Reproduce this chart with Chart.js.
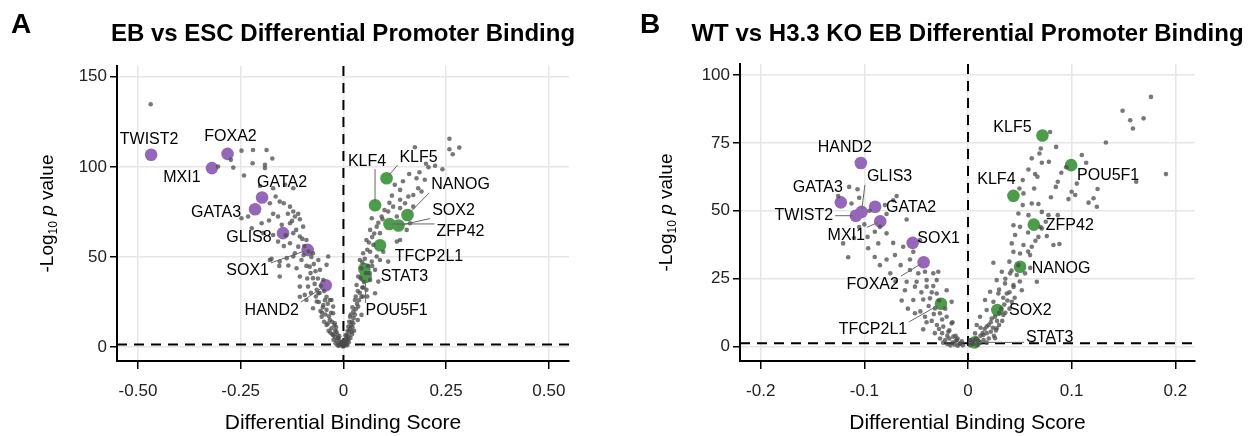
<!DOCTYPE html>
<html>
<head>
<meta charset="utf-8">
<script src="https://cdn.jsdelivr.net/npm/chart.js@4.4.1/dist/chart.umd.min.js"></script>
<style>
    body {
        margin: 0;
        background: #fff;
        width: 1252px;
        height: 436px;
        overflow: hidden;
        position: relative;
    }
    #panelA { position: absolute; left: 0; top: 0; }
    #panelB { position: absolute; left: 620px; top: 0; }
</style>
</head>
<body>
<canvas id="panelA" width="620" height="436"></canvas>
<canvas id="panelB" width="632" height="436"></canvas>

<script>
// ---- panel A : EB vs ESC ----
const xTicksA = [-0.5, -0.25, 0, 0.25, 0.5];
const xTickLabelsA = ['-0.50', '-0.25', '0', '0.25', '0.50'];
const yTicksA = [0, 50, 100, 150];

const purpleGenesA = ['TWIST2', 'FOXA2', 'MXI1', 'GATA2', 'GATA3', 'GLIS8', 'SOX1', 'HAND2'];
const purpleXA = [-0.468, -0.282, -0.320, -0.198, -0.215, -0.147, -0.087, -0.043];
const purpleYA = [106.7, 107.2, 99.3, 83.0, 76.5, 63.2, 53.9, 34.3];

const greenGenesA = ['KLF5', 'KLF4', 'NANOG', 'SOX2', 'ZFP42', 'TFCP2L1', 'STAT3', 'POU5F1'];
const greenXA = [0.105, 0.077, 0.156, 0.134, 0.112, 0.089, 0.051, 0.054];
const greenYA = [93.7, 78.7, 73.3, 67.4, 68.3, 56.5, 43.3, 38.9];

const otherA = [
    [-0.469,134.8],[-0.305,100.2],[-0.274,103.9],[-0.268,99.6],[-0.248,109],[-0.242,95.2],[-0.220,109.4],
    [-0.221,102],[-0.187,109.4],[-0.191,101.1],[-0.191,99.3],[-0.173,104.6],[-0.203,89.4],[-0.171,88.1],
    [-0.142,90],[-0.122,88.1],[-0.165,83.5],[-0.179,79.8],[-0.155,80.7],[-0.145,79.8],[-0.130,77.9],
    [-0.122,75.2],[-0.171,73.9],[-0.159,72.4],[-0.118,72.4],[-0.110,73.9],[-0.248,71.5],[-0.232,72.4],
    [-0.199,68.7],[-0.181,70.2],[-0.150,67.8],[-0.130,68.7],[-0.106,70.9],[-0.098,66.8],[-0.223,65.9],
    [-0.195,63.2],[-0.171,62.2],[-0.122,63.2],[-0.106,61.3],[-0.159,58.5],[-0.130,57.6],[-0.090,59.4],
    [-0.110,55.7],[-0.074,52],[-0.179,48.3],[-0.155,47.4],[-0.138,49.3],[-0.122,50.2],[-0.102,48.3],
    [-0.061,48.3],[-0.037,50.2],[-0.134,45.2],[-0.114,43.7],[-0.082,44.6],[-0.057,42.8],[-0.041,45.6],
    [-0.155,39.1],[-0.106,39.1],[-0.074,38.2],[-0.049,37.2],[-0.086,33.5],[-0.065,31.7],[-0.094,28.9],
    [-0.061,29.8],[-0.041,27.9],[-0.029,26.1],[-0.065,25.2],[-0.049,23.3],[-0.074,21.5],[-0.041,20.6],
    [-0.025,18.7],[-0.053,16.8],[-0.033,15],[-0.021,13.2],[-0.041,12.2],[-0.029,10.4],[-0.017,8.5],
    [-0.025,6.7],[-0.013,4.8],[-0.008,3],[-0.004,2],[-0.175,48.9],[-0.156,45],[-0.106,33.5],[-0.106,27.9],
    [-0.090,26.1],[-0.033,26.1],[-0.025,22.4],[-0.035,17],[-0.030,19],[-0.028,14],[-0.022,12],[-0.020,9],
    [-0.018,11],[-0.015,7],[-0.012,5],[-0.010,6],[-0.006,2.5],[-0.003,3],[-0.002,0.8],[-0.001,0.3],
    [-0.050,22],[-0.045,26],[-0.038,24],[-0.058,30],[-0.070,35],[-0.080,41],[-0.090,45],[-0.052,19],
    [-0.060,25],[-0.044,18],[-0.036,9],[-0.027,7],
    [-0.047,31],[-0.055,34],[-0.062,38],[-0.068,42],[-0.072,46],[-0.078,50],[-0.085,53],[-0.095,56],
    [-0.100,60],[-0.115,65],[-0.125,70],[-0.135,74],[-0.140,62],[-0.145,56],[-0.118,52],[-0.097,51],
    [-0.088,38],[-0.079,30],[-0.067,28],[-0.056,20],[-0.047,14],[-0.038,13],[-0.032,8],[-0.024,4],
    [-0.019,2],[-0.014,1],[-0.009,1.5],[-0.011,0.6],[-0.016,3.5],[-0.021,5.5],
    [0.258,115.6],[0.266,107],[0.282,110.7],[0.258,109.8],[0.174,110.9],[0.201,101.7],[0.207,99.8],
    [0.223,100.6],[0.241,98.7],[0.178,93.7],[0.198,92.8],[0.182,88.1],[0.190,86.3],[0.170,84.4],
    [0.138,87.2],[0.138,81.7],[0.158,83.5],[0.121,77.9],[0.150,79.8],[0.109,75.2],[0.138,77.1],
    [0.170,77.9],[0.093,72.4],[0.130,72.4],[0.069,71.5],[0.081,66.8],[0.154,65],[0.162,68.7],[0.065,65],
    [0.089,63.2],[0.130,58.5],[0.138,59.4],[0.056,59.4],[0.073,56.7],[0.065,52.9],[0.097,52.9],[0.048,52],
    [0.081,50.2],[0.040,48.3],[0.069,47.4],[0.089,48.3],[0.109,47.4],[0.044,43.7],[0.077,42.8],[0.036,39.1],
    [0.065,37.2],[0.085,36.3],[0.032,34.4],[0.056,31.7],[0.077,29.8],[0.044,27.9],[0.028,26.1],[0.036,22.4],
    [0.024,19.6],[0.044,17.8],[0.016,16.8],[0.024,13.2],[0.012,11.3],[0.020,8.5],[0.008,6.7],[0.012,3.9],
    [0.004,2.1],[0.002,0.5],[0.004,1.2],[0.006,3],[0.008,2],[0.010,4.5],[0.012,6],[0.014,8.5],[0.016,10],
    [0.018,12],[0.020,14],[0.022,11],[0.025,16],[0.028,18],[0.030,21],[0.033,24],[0.038,26],[0.040,30],
    [0.046,33],[0.050,36],[0.055,41],[0.060,45],[0.048,28],[0.035,15],[0.026,9],
    [0.046,47],[0.052,49],[0.058,54],[0.062,58],[0.070,61],[0.075,63],[0.085,69],[0.095,71],[0.100,76],
    [0.112,80],[0.118,84],[0.125,90],[0.145,92],[0.160,96],[0.185,97],[0.064,41],[0.070,45],[0.042,38],
    [0.048,33],[0.058,28],[0.035,31],[0.030,28],[0.022,22],[0.018,18],[0.014,14],[0.010,9],[0.007,5],
    [0.005,6.5],[0.003,4],[0.009,1],[0.013,2.5],[0.017,5],[0.021,7]
];

// ---- panel B : WT vs H3.3 KO EB ----
const xTicksB = [-0.2, -0.1, 0, 0.1, 0.2];
const xTickLabelsB = ['-0.2', '-0.1', '0', '0.1', '0.2'];
const yTicksB = [0, 25, 50, 75, 100];

const purpleGenesB = ['HAND2', 'GATA3', 'GLIS3', 'TWIST2', 'GATA2', 'MXI1', 'SOX1', 'FOXA2'];
const purpleXB = [-0.1034, -0.1227, -0.1027, -0.1082, -0.0896, -0.0847, -0.0534, -0.0428];
const purpleYB = [67.6, 53.1, 49.6, 48.2, 51.5, 46.1, 38.2, 31.1];

const greenGenesB = ['KLF5', 'POU5F1', 'KLF4', 'ZFP42', 'NANOG', 'SOX2', 'TFCP2L1', 'STAT3'];
const greenXB = [0.0718, 0.0995, 0.0438, 0.0635, 0.0502, 0.0283, -0.0261, 0.0065];
const greenYB = [77.7, 66.8, 55.5, 44.9, 29.4, 13.5, 15.8, 1.6];

const otherB = [
    [-0.1147,58.8],[-0.1066,57.9],[-0.1253,55.4],[-0.1124,52.7],[-0.1050,54.8],[-0.0689,55.4],[-0.0722,53.9],
    [-0.0802,52.1],[-0.0786,48.8],[-0.0592,46.8],[-0.0850,44.1],[-0.0899,42.3],[-0.0786,41.7],[-0.1205,38],
    [-0.0969,40.4],[-0.0963,36.2],[-0.0866,38],[-0.0722,38.2],[-0.0625,36.8],[-0.1156,32.9],[-0.0786,32.1],
    [-0.0705,33.7],[-0.0560,32.1],[-0.0464,39.2],[-0.0528,34.9],[-0.0560,28.2],[-0.0480,27],[-0.0415,27.6],
    [-0.0335,27],[-0.0287,27.6],[-0.0592,23.9],[-0.0496,23.9],[-0.0399,24.5],[-0.0302,24.5],[-0.0609,20.8],
    [-0.0512,22.1],[-0.0399,22.1],[-0.0335,22.3],[-0.0206,20.8],[-0.0302,19.6],[-0.0528,17.2],[-0.0432,17.4],
    [-0.0367,17.8],[-0.0158,16.5],[-0.0512,12.3],[-0.0415,11],[-0.0319,14.1],[-0.0271,12.3],[-0.0206,11],
    [-0.0158,8.6],[-0.0432,6.4],[-0.0239,7.4],[-0.0190,5.5],[-0.0142,3.7],[-0.0109,2.5],[-0.0077,1.3],
    [-0.005,0.5],[-0.008,1],[-0.012,2],[-0.015,1.5],[-0.018,3],[-0.020,4],[-0.022,2.5],[-0.025,5],
    [-0.028,6.5],[-0.030,8],[-0.012,4],[-0.010,3],[-0.035,9.5],[-0.033,12],[-0.018,6],[-0.015,9],
    [-0.025,10],[-0.006,2],
    [-0.100,45],[-0.095,50],[-0.105,44],[-0.110,40],[-0.090,33],[-0.085,30],[-0.075,27],[-0.065,30],
    [-0.070,24],[-0.064,17],[-0.058,14],[-0.045,20],[-0.038,15],[-0.035,20],[-0.028,17],[-0.032,5],
    [-0.027,3],[-0.020,1],[-0.017,0.5],[-0.013,0.8],[-0.010,0.4],[-0.024,1.5],[-0.040,9],[-0.046,13],
    [-0.022,14],
    [0.1765,91.9],[0.1491,86.8],[0.1565,83.3],[0.1694,84],[0.1591,80.3],[0.1330,75.1],[0.0792,79],
    [0.0850,73.5],[0.0702,72.9],[0.0689,71.1],[0.0615,69.3],[0.0712,67.7],[0.0583,65.2],[0.0647,63.5],
    [0.0670,62.5],[0.1098,70.5],[0.1140,67.7],[0.0947,66],[0.0866,60.7],[0.0847,58.8],[0.1623,60.7],
    [0.1910,63.5],[0.0528,61.3],[0.0496,58.2],[0.0638,58.2],[0.0535,56.4],[0.1034,55.8],[0.0969,54.3],
    [0.1211,54.6],[0.1163,53],[0.1243,51.5],[0.0615,52.7],[0.0679,52.5],[0.0528,52.1],[0.0486,49],
    [0.0583,48.4],[0.0712,49.6],[0.0776,48.4],[0.0866,48.4],[0.0438,44.7],[0.0502,44.1],[0.0712,43.5],
    [0.0454,41.1],[0.0679,40.4],[0.0760,40.7],[0.0422,38],[0.0535,37.4],[0.0615,36.8],[0.0824,37.4],
    [0.0882,37.8],[0.0438,34.9],[0.0502,34.3],[0.0599,33.7],[0.0245,30.9],[0.0399,31.3],[0.0486,30],
    [0.0326,27.6],[0.0406,27],[0.0470,26.4],[0.0664,23.9],[0.0277,24.5],[0.0357,23.3],[0.0438,22.7],
    [0.0519,20.8],[0.0213,20.2],[0.0293,19.6],[0.0374,19.6],[0.0164,17.2],[0.0245,16.5],[0.0422,16.5],
    [0.0180,13.5],[0.0116,11],[0.0229,10.4],[0.0341,11.7],[0.0084,8],[0.0180,7.4],[0.0277,6.8],
    [0.0068,4.9],[0.0148,4.3],[0.0261,3.1],[0.0019,2.5],
    [0.002,0.5],[0.004,1.5],[0.006,2.5],[0.008,3],[0.010,2],[0.012,4],[0.014,5],[0.016,6.5],[0.018,5],
    [0.020,8],[0.022,9],[0.024,7],[0.026,11],[0.028,9.5],[0.030,12.5],[0.032,14],[0.035,15.5],[0.038,17],
    [0.040,20],[0.044,22],[0.012,7],[0.020,3],[0.025,4],
    [0.005,1],[0.009,0.7],[0.012,1.5],[0.015,2.5],[0.018,1.5],[0.022,5.5],[0.027,6],[0.030,8],[0.033,9.5],
    [0.036,12.5],[0.040,14],[0.045,18],[0.050,24],[0.055,27],[0.060,29],[0.058,35],[0.065,39],[0.070,44],
    [0.075,46],[0.080,55],[0.058,42],[0.034,18],[0.030,21],[0.036,25],[0.042,28],[0.100,57],[0.105,60],
    [0.125,58],[0.090,64],[0.078,68]
];

const sigLine = -Math.log10(0.05);

const FONT = '"Liberation Sans", Arial, Helvetica, sans-serif';
const PURPLE = '#9467b8';
const GREEN = '#4c9c4c';

// label placement (pixel offset from the point, and whether a leader line is drawn)
const labelLayoutA = {
    TWIST2: [-2, -15, false], FOXA2: [3, -17, false], MXI1: [-30, 9, false], GATA2: [20, -15, false],
    GATA3: [-39, 3, false], GLIS8: [-34, 4, false], SOX1: [-60, 21, true], HAND2: [-54, 25, true],
    KLF4: [-8, -44, true], KLF5: [32, -21, true], NANOG: [53, -30, true], SOX2: [55, -15, true],
    ZFP42: [71, 8, true], TFCP2L1: [49, 11, false], STAT3: [40, 8, false], POU5F1: [31, 34, true]
};
const labelLayoutB = {
    HAND2: [-16, -15, false], GATA3: [-23, -15, false], GLIS3: [28, -35, true], TWIST2: [-52, 0, true],
    GATA2: [36, 1, false], MXI1: [-34, 14, true], SOX1: [26, -4, false], FOXA2: [-51, 22, true],
    TFCP2L1: [-68, 26, true], KLF5: [-30, -8, false], POU5F1: [37, 10, false], KLF4: [-17, -16, false],
    ZFP42: [36, 1, false], NANOG: [41, 2, false], SOX2: [33, 1, false], STAT3: [75, -5, true]
};

const volcanoDecor = {
    id: 'volcanoDecor',
    beforeDatasetsDraw(chart, args, opts) {
        const { ctx, chartArea: a, scales: { x, y } } = chart;
        const x0 = x.getPixelForValue(0);
        const ys = y.getPixelForValue(opts.sigLine);
        ctx.save();
        ctx.strokeStyle = '#000';
        ctx.lineWidth = 2;
        ctx.setLineDash([10, 7]);
        ctx.beginPath();
        ctx.moveTo(x0, a.top); ctx.lineTo(x0, a.bottom);
        ctx.moveTo(a.left, ys); ctx.lineTo(a.right, ys);
        ctx.stroke();
        ctx.restore();
    },
    afterDraw(chart, args, opts) {
        const { ctx, chartArea: a } = chart;
        ctx.save();
        ctx.fillStyle = '#000';
        ctx.textBaseline = 'middle';

        // panel letter and title
        ctx.font = 'bold 28px ' + FONT;
        ctx.textAlign = 'left';
        ctx.fillText(opts.letter, opts.letterX, 25);
        ctx.font = 'bold 24px ' + FONT;
        ctx.textAlign = 'center';
        ctx.fillText(opts.title, (a.left + a.right) / 2, 34);

        // y title: -Log10 p value
        ctx.save();
        ctx.translate(opts.yTitleX, (a.top + a.bottom) / 2);
        ctx.rotate(-Math.PI / 2);
        const parts = [
            ['-Log', '19px ' + FONT, 0],
            ['10', '12px ' + FONT, 4],
            [' ', '19px ' + FONT, 0],
            ['p', 'italic 19px ' + FONT, 0],
            [' value', '19px ' + FONT, 0]
        ];
        let total = 0;
        parts.forEach(p => { ctx.font = p[1]; total += ctx.measureText(p[0]).width; });
        let cx = -total / 2;
        ctx.textAlign = 'left';
        ctx.textBaseline = 'alphabetic';
        parts.forEach(p => {
            ctx.font = p[1];
            ctx.fillText(p[0], cx, 7 + p[2]);
            cx += ctx.measureText(p[0]).width;
        });
        ctx.restore();

        // gene labels
        ctx.font = '16px ' + FONT;
        ctx.textAlign = 'center';
        ctx.textBaseline = 'middle';
        opts.labelSets.forEach(set => {
            const meta = chart.getDatasetMeta(set.dataset);
            set.genes.forEach((g, i) => {
                const pt = meta.data[i];
                const [dx, dy, leader] = set.layout[g];
                const lx = pt.x + dx, ly = pt.y + dy;
                if (leader) {
                    const hw = ctx.measureText(g).width / 2 + 2, hh = 8;
                    const ex = Math.min(Math.max(pt.x, lx - hw), lx + hw);
                    const ey = Math.min(Math.max(pt.y, ly - hh), ly + hh);
                    const len = Math.hypot(pt.x - ex, pt.y - ey);
                    const sx = pt.x + (ex - pt.x) * 3 / len, sy = pt.y + (ey - pt.y) * 3 / len;
                    ctx.strokeStyle = '#666';
                    ctx.lineWidth = 1;
                    ctx.beginPath();
                    ctx.moveTo(ex, ey);
                    ctx.lineTo(sx, sy);
                    ctx.stroke();
                }
                ctx.fillStyle = '#000';
                ctx.fillText(g, lx, ly);
            });
        });
        ctx.restore();
    }
};

function toPoints(xs, ys) {
    return xs.map((v, i) => ({ x: v, y: ys[i] }));
}

function makeVolcano(id, cfg) {
    const ctx = document.getElementById(id).getContext('2d');
    return new Chart(ctx, {
        type: 'scatter',
        data: {
            datasets: [
                {
                    data: cfg.other.map(p => ({ x: p[0], y: p[1] })),
                    backgroundColor: 'rgba(75, 75, 75, 0.75)',
                    borderWidth: 0,
                    pointRadius: 2.3
                },
                {
                    data: toPoints(cfg.purpleX, cfg.purpleY),
                    backgroundColor: PURPLE,
                    borderWidth: 0,
                    pointRadius: 6.3
                },
                {
                    data: toPoints(cfg.greenX, cfg.greenY),
                    backgroundColor: GREEN,
                    borderWidth: 0,
                    pointRadius: 6.3
                }
            ]
        },
        options: {
            responsive: false,
            animation: false,
            events: [],
            layout: { padding: { left: 0, right: cfg.padRight, top: cfg.padTop, bottom: 0 } },
            scales: {
                x: {
                    type: 'linear',
                    min: cfg.xMin,
                    max: cfg.xMax,
                    afterBuildTicks: s => { s.ticks = cfg.xTicks.map(v => ({ value: v })); },
                    afterFit: s => { s.height = 75; },
                    ticks: {
                        callback: (v, i) => cfg.xTickLabels[i],
                        font: { size: 17, family: FONT },
                        color: '#222',
                        padding: 12,
                        maxRotation: 0
                    },
                    grid: { color: '#e6e6e6', lineWidth: 1.5, tickColor: '#000', tickLength: 8, tickWidth: 1.5 },
                    border: { color: '#000', width: 2 },
                    title: {
                        display: true,
                        text: 'Differential Binding Score',
                        font: { size: 21, family: FONT },
                        color: '#000',
                        padding: { top: 0, bottom: 0 }
                    }
                },
                y: {
                    type: 'linear',
                    min: cfg.yMin,
                    max: cfg.yMax,
                    afterBuildTicks: s => { s.ticks = cfg.yTicks.map(v => ({ value: v })); },
                    afterFit: s => { s.width = cfg.yAxisWidth; },
                    ticks: {
                        font: { size: 17, family: FONT },
                        color: '#222',
                        padding: 3
                    },
                    grid: { color: '#e6e6e6', lineWidth: 1.5, tickColor: '#000', tickLength: 7, tickWidth: 1.5 },
                    border: { color: '#000', width: 2 }
                }
            },
            plugins: {
                legend: { display: false },
                tooltip: { enabled: false },
                volcanoDecor: {
                    letter: cfg.letter,
                    letterX: cfg.letterX,
                    title: cfg.title,
                    yTitleX: cfg.yTitleX,
                    sigLine: sigLine,
                    labelSets: [
                        { dataset: 1, genes: cfg.purpleGenes, layout: cfg.layout },
                        { dataset: 2, genes: cfg.greenGenes, layout: cfg.layout }
                    ]
                }
            }
        },
        plugins: [volcanoDecor]
    });
}

const chartA = makeVolcano('panelA', {
    letter: 'A', letterX: 11, title: 'EB vs ESC Differential Promoter Binding', yTitleX: 46,
    xMin: -0.551, xMax: 0.549, yMin: -7.8, yMax: 156,
    xTicks: xTicksA, xTickLabels: xTickLabelsA, yTicks: yTicksA,
    other: otherA,
    purpleGenes: purpleGenesA, purpleX: purpleXA, purpleY: purpleYA,
    greenGenes: greenGenesA, greenX: greenXA, greenY: greenYA,
    layout: labelLayoutA,
    yAxisWidth: 117, padRight: 51, padTop: 66
});

const chartB = makeVolcano('panelB', {
    letter: 'B', letterX: 20, title: 'WT vs H3.3 KO EB Differential Promoter Binding', yTitleX: 45,
    xMin: -0.22, xMax: 0.219, yMin: -5.25, yMax: 104,
    xTicks: xTicksB, xTickLabels: xTickLabelsB, yTicks: yTicksB,
    other: otherB,
    purpleGenes: purpleGenesB, purpleX: purpleXB, purpleY: purpleYB,
    greenGenes: greenGenesB, greenX: greenXB, greenY: greenYB,
    layout: labelLayoutB,
    yAxisWidth: 120, padRight: 57, padTop: 64
});
</script>
</body>
</html>
